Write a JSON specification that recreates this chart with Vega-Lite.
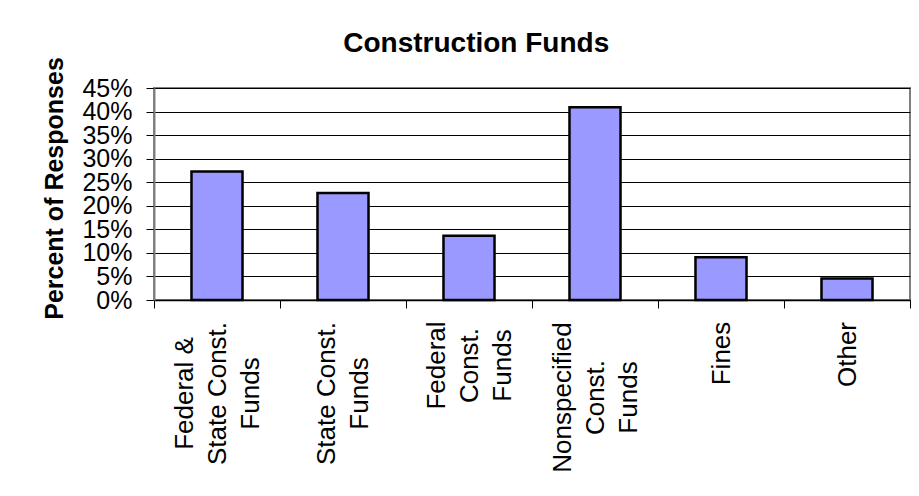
{
  "$schema": "https://vega.github.io/schema/vega-lite/v6.json",
  "width": 756,
  "height": 212,
  "autosize": {"type": "none"},
  "padding": {"left": 154, "top": 88, "right": 9, "bottom": 196},
  "background": "white",
  "config": {
    "font": "Liberation Sans",
    "view": {"stroke": "#808080", "strokeWidth": 2}
  },
  "title": {
    "text": "Construction Funds",
    "font": "Liberation Sans",
    "fontSize": 28,
    "fontWeight": "bold",
    "color": "black",
    "anchor": "middle",
    "frame": "bounds",
    "baseline": "alphabetic",
    "offset": 4,
    "dy": 27
  },
  "data": {
    "values": [
      {"cat": "Federal &|State Const.|Funds", "pct": 0.2727},
      {"cat": "State Const.|Funds", "pct": 0.2273},
      {"cat": "Federal|Const.|Funds", "pct": 0.1364},
      {"cat": "Nonspecified|Const.|Funds", "pct": 0.4091},
      {"cat": "Fines", "pct": 0.0909},
      {"cat": "Other", "pct": 0.0455}
    ]
  },
  "mark": {"type": "bar", "fill": "#9999FF", "stroke": "black", "strokeWidth": 2.5, "width": {"band": 0.405}},
  "encoding": {
    "x": {
      "field": "cat",
      "type": "nominal",
      "sort": null,
      "scale": {"paddingInner": 0, "paddingOuter": 0},
      "axis": {
        "title": null,
        "labelExpr": "split(datum.label, '|')",
        "labelAngle": -90,
        "labelAlign": "center",
        "labelBaseline": "middle",
        "labelFontSize": 26,
        "labelColor": "black",
        "labelLineHeight": 33,
        "labelLimit": 0,
        "labelPadding": {
          "condition": [
            {"test": "datum.value == 'Federal &|State Const.|Funds'", "value": 85},
            {"test": "datum.value == 'State Const.|Funds'", "value": 85},
            {"test": "datum.value == 'Federal|Const.|Funds'", "value": 57},
            {"test": "datum.value == 'Nonspecified|Const.|Funds'", "value": 89},
            {"test": "datum.value == 'Fines'", "value": 45}
          ],
          "value": 46
        },
        "labelOffset": {
          "condition": [
            {"test": "datum.value == 'Federal &|State Const.|Funds'", "value": -33},
            {"test": "datum.value == 'State Const.|Funds'", "value": -16.5},
            {"test": "datum.value == 'Federal|Const.|Funds'", "value": -33},
            {"test": "datum.value == 'Nonspecified|Const.|Funds'", "value": -33}
          ],
          "value": 0
        },
        "tickBand": "extent",
        "tickSize": 8,
        "tickColor": "black",
        "tickWidth": 1,
        "domainColor": "black",
        "domainWidth": 1.5,
        "grid": false
      }
    },
    "y": {
      "field": "pct",
      "type": "quantitative",
      "scale": {"domain": [0, 0.45], "nice": false},
      "axis": {
        "title": "Percent of Responses",
        "titleFontSize": 25,
        "titleFontWeight": "bold",
        "titleColor": "black",
        "titleBaseline": "alphabetic",
        "titleX": -92,
        "titleY": 100,
        "values": [0, 0.05, 0.1, 0.15, 0.2, 0.25, 0.3, 0.35, 0.4, 0.45],
        "format": ".0%",
        "labelFontSize": 25,
        "labelColor": "black",
        "labelPadding": 14,
        "labelBaseline": "middle",
        "labelFlush": false,
        "labelOverlap": false,
        "tickSize": 8,
        "tickColor": "black",
        "domainColor": "#808080",
        "domainWidth": 2,
        "grid": true,
        "gridColor": "black",
        "gridWidth": 1
      }
    }
  }
}
